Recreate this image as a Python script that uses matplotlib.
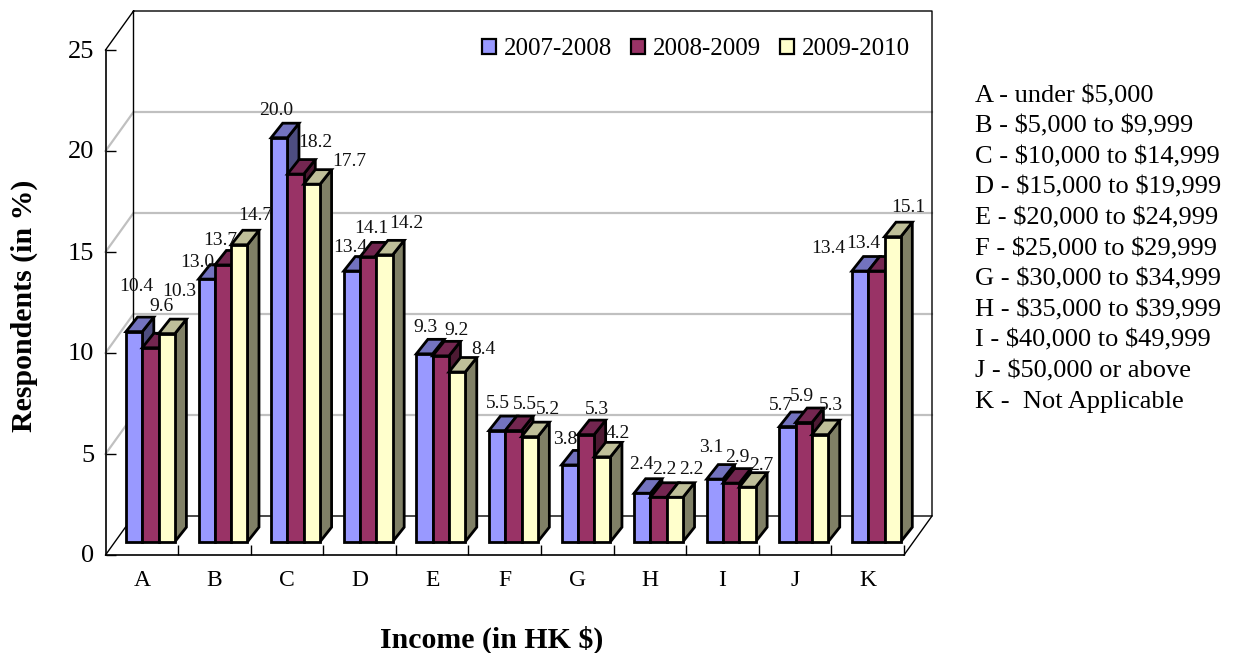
import matplotlib
matplotlib.use('Agg')
import matplotlib.pyplot as plt
from matplotlib.patches import Patch
from matplotlib.transforms import ScaledTranslation

plt.rcParams['font.family'] = ['Liberation Serif', 'DejaVu Serif']
plt.rcParams['text.parse_math'] = False

categories = ['A', 'B', 'C', 'D', 'E', 'F', 'G', 'H', 'I', 'J', 'K']
series_names = ['2007-2008', '2008-2009', '2009-2010']
values_0708 = [10.4, 13.0, 20.0, 13.4, 9.3, 5.5, 3.8, 2.4, 3.1, 5.7, 13.4]
values_0809 = [9.6, 13.7, 18.2, 14.1, 9.2, 5.5, 5.3, 2.2, 2.9, 5.9, 13.4]
values_0910 = [10.3, 14.7, 17.7, 14.2, 8.4, 5.2, 4.2, 2.2, 2.7, 5.3, 15.1]
income_key = ['A - under $5,000', 'B - $5,000 to $9,999', 'C - $10,000 to $14,999',
              'D - $15,000 to $19,999', 'E - $20,000 to $24,999', 'F - $25,000 to $29,999',
              'G - $30,000 to $34,999', 'H - $35,000 to $39,999', 'I - $40,000 to $49,999',
              'J - $50,000 or above', 'K -  Not Applicable']

# front, top, side colours of each series
colors = [('#9999ff', '#7373bf', '#4d4d80'),
          ('#993366', '#732650', '#4d1a33'),
          ('#ffffcc', '#bfbf99', '#808066')]

# label offsets from the bar top, in pixels
label_offsets = [
    [(2, 45), (-9, 17), (-3, 27), (-2, 24), (1, 26), (1, 27), (-5, 25), (-1, 29), (-4, 32), (-7, 21), (-32, 23)],
    [(11, 41), (-3, 24), (20, 32), (3, 28), (16, 25), (11, 26), (11, 25), (6, 28), (6, 26), (-2, 26), (-13, 28)],
    [(13, 42), (16, 29), (37, 23), (22, 31), (26, 23), (18, 27), (16, 23), (16, 28), (14, 22), (11, 29), (16, 29)],
]

W, H = 1241, 653
PX_X = (904 - 105.5) / 11  # pixels per category
PX_Y = 505 / 25            # pixels per percent

fig = plt.figure(figsize=(W / 100, H / 100), dpi=100)
ax = fig.add_axes([105.5 / W, (H - 555) / H, (904 - 105.5) / W, 505 / H])
ax.set_xlim(0, 11)
ax.set_ylim(0, 25)
ax.patch.set_visible(False)

# depth of the box, of the bar base and of one bar
wall_dx, wall_dy = 28 / PX_X, 39 / PX_Y
base_dx, base_dy = 9 / PX_X, 13.3 / PX_Y
bar_dx, bar_dy = 11.5 / PX_X, 14.5 / PX_Y
bar_w = 16.3 / PX_X

# walls
for v in [5, 10, 15, 20]:
    ax.plot([0, wall_dx, 11 + wall_dx], [v, v + wall_dy, v + wall_dy], color='#c0c0c0', lw=1.6,
            clip_on=False, zorder=1, solid_joinstyle='miter')
line = dict(color='black', lw=1, clip_on=False, zorder=1.5)
ax.plot([0, wall_dx, 11 + wall_dx, 11 + wall_dx, wall_dx, wall_dx],
        [25, 25 + wall_dy, 25 + wall_dy, wall_dy, wall_dy, 25 + wall_dy], **line)
ax.plot([0, wall_dx], [0, wall_dy], **line)
ax.plot([11, 11 + wall_dx], [0, wall_dy], **line)

# bars
all_values = [values_0708, values_0809, values_0910]
for i in range(len(categories)):
    group_left = i + (126 - 105.5) / PX_X
    for j, vals in enumerate(all_values):
        v = vals[i]
        x0 = group_left + j * bar_w
        x1 = x0 + bar_w
        y0 = base_dy
        y1 = base_dy + v
        z = 3 + i + j * 0.1
        front, top, side = colors[j]
        edge = dict(edgecolor='black', linewidth=2.0, joinstyle='miter', clip_on=False)
        ax.fill([x1, x1 + bar_dx, x1 + bar_dx, x1], [y0, y0 + bar_dy, y1 + bar_dy, y1],
                facecolor=side, zorder=z, **edge)
        ax.fill([x0, x0 + bar_dx, x1 + bar_dx, x1], [y1, y1 + bar_dy, y1 + bar_dy, y1],
                facecolor=top, zorder=z, **edge)
        ax.bar(x0, v, bar_w, bottom=y0, align='edge', facecolor=front, zorder=z, **edge)
        dx, dy = label_offsets[j][i]
        ax.annotate(f'{v:.1f}', xy=((x0 + x1) / 2, y1), xytext=(dx, dy), textcoords='offset pixels',
                    ha='center', va='center', fontsize=14, color='#111111', zorder=20,
                    annotation_clip=False)

# axes
for s in ['top', 'right']:
    ax.spines[s].set_visible(False)
for s in ['left', 'bottom']:
    ax.spines[s].set_linewidth(1.2)
    ax.spines[s].set_zorder(2)
ax.set_yticks([0, 5, 10, 15, 20, 25])
ax.tick_params(axis='y', direction='in', length=7, width=1, labelsize=19, pad=8)
shift = ScaledTranslation(0, 1 / 100, fig.dpi_scale_trans)
for lab in ax.get_yticklabels():
    lab.set_transform(lab.get_transform() + shift)
ax.set_xticks(range(1, 12))
ax.set_xticklabels([])
ax.tick_params(axis='x', direction='in', length=7, width=1)
ax.set_xticks([i + 0.5 for i in range(11)], minor=True)
ax.set_xticklabels(categories, minor=True, fontsize=17)
ax.tick_params(axis='x', which='minor', length=0, pad=11)

fig.text(24 / W, 1 - 306 / H, 'Respondents (in %)', rotation=90, fontsize=21.5, fontweight='bold',
         ha='center', va='center')
fig.text(492 / W, 1 - 640 / H, 'Income (in HK $)', fontsize=21.5, fontweight='bold',
         ha='center', va='center')

# legend
handles = [Patch(facecolor=c[0], edgecolor='black', linewidth=1.6) for c in colors]
fig.legend(handles, series_names, loc='center right', bbox_to_anchor=(910 / W, 1 - 49 / H), ncol=3,
           frameon=False, fontsize=18, handlelength=0.55, handleheight=0.55, handletextpad=0.33,
           columnspacing=0.75, borderpad=0, borderaxespad=0)

# income key
for k, txt in enumerate(income_key):
    fig.text(975 / W, 1 - (96 + k * 30.6) / H, txt, fontsize=19, ha='left', va='center')

fig.savefig('out.png', dpi=100)
